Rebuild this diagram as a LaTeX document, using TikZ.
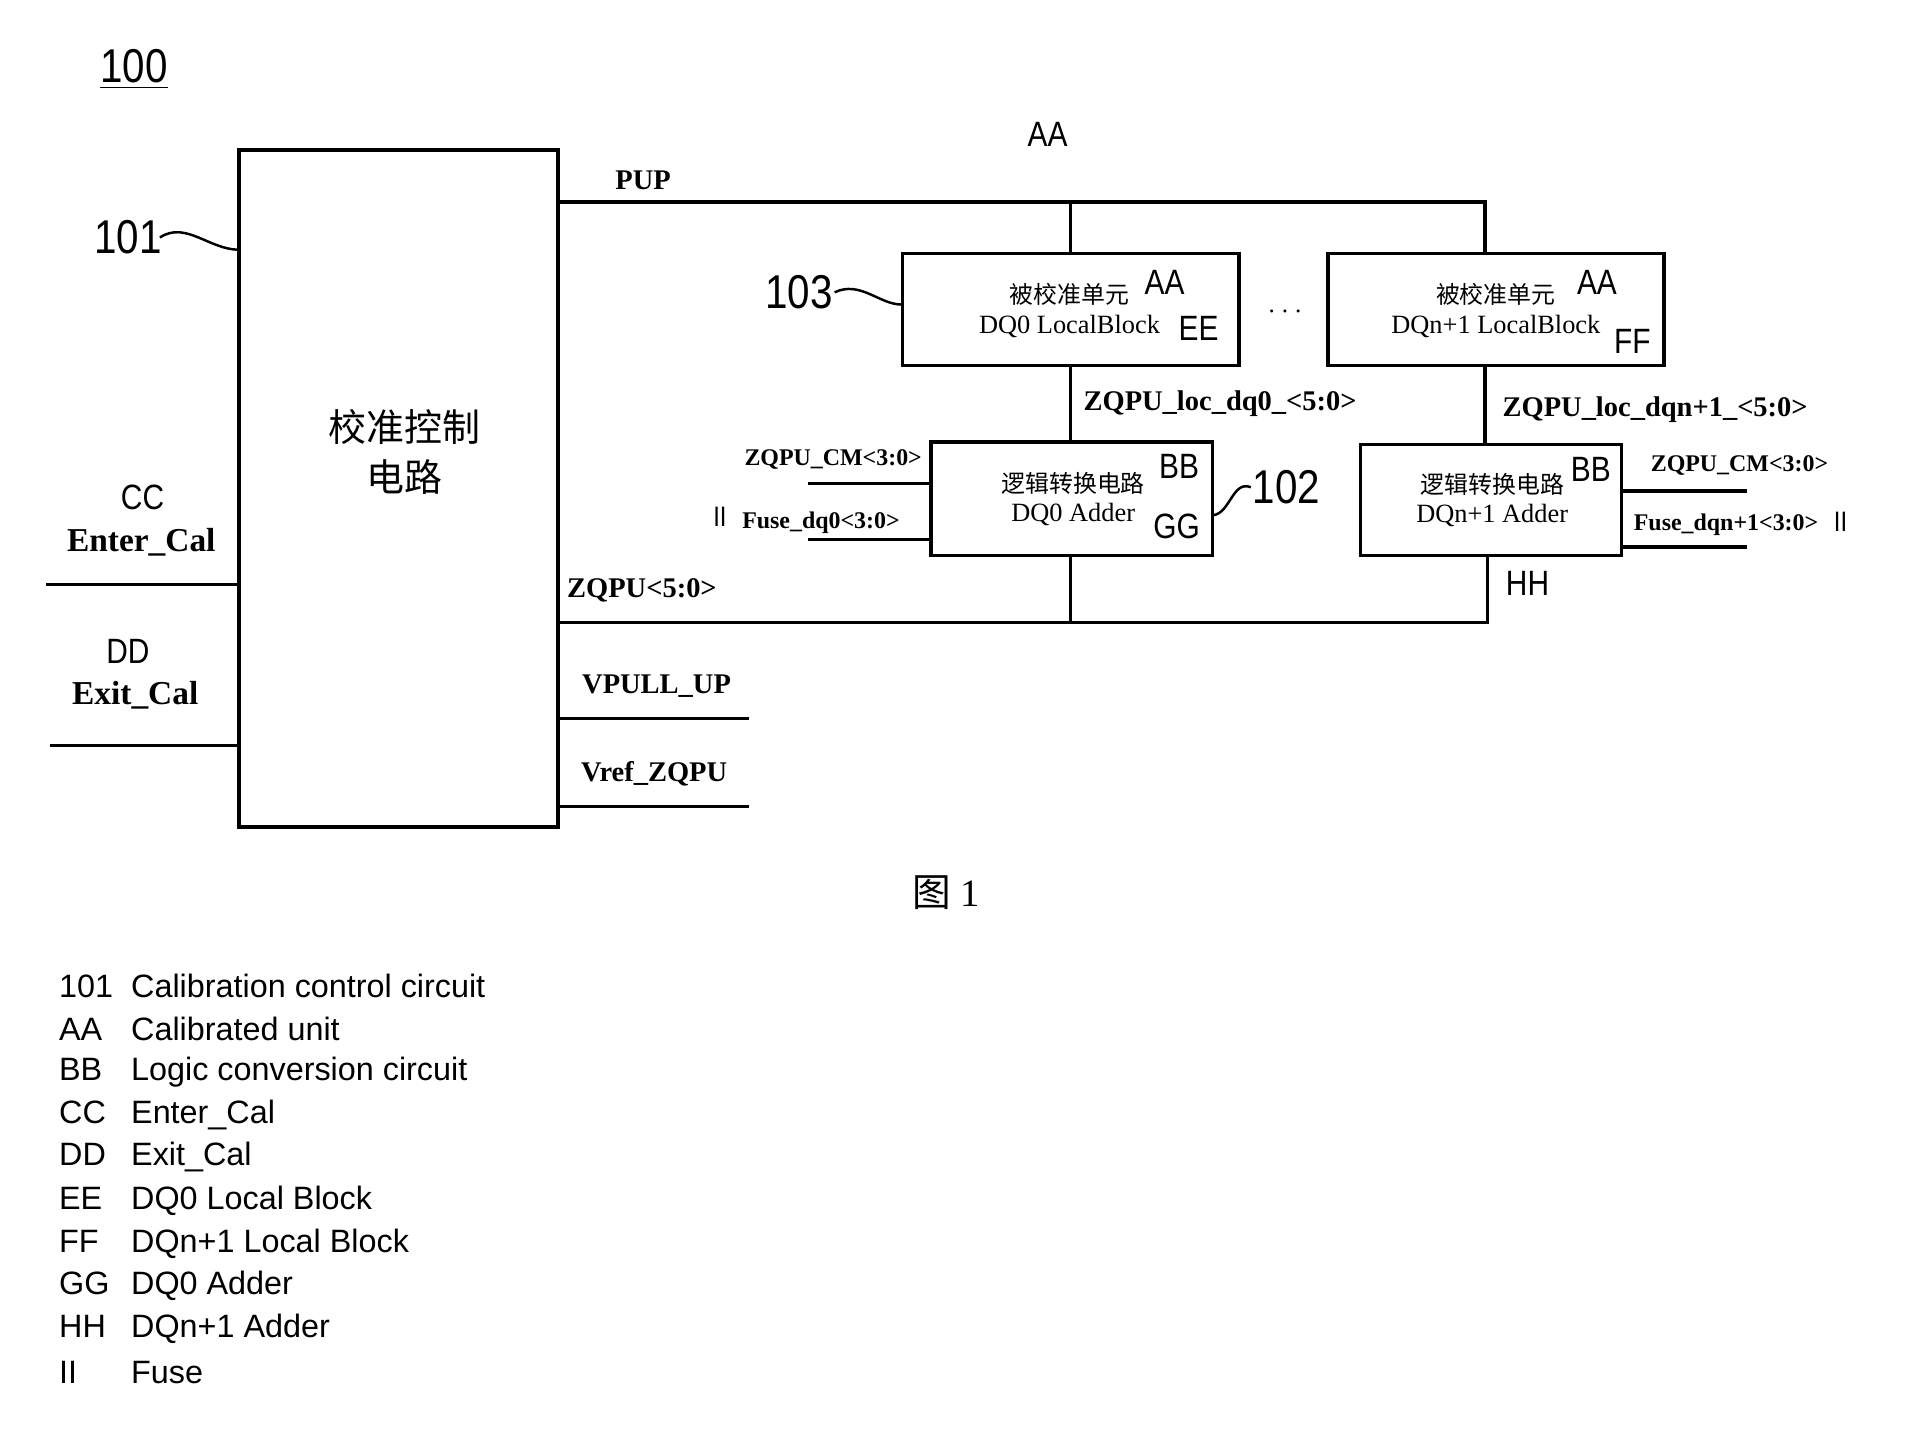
\documentclass[tikz,border=0pt]{standalone}
\usepackage{fontspec}
\setmainfont{Liberation Serif}
\setsansfont{Liberation Sans}
\newfontfamily\cjk{Noto Sans CJK SC}
\newfontfamily\narrowsans[FakeStretch=0.85]{Liberation Sans}
\usepackage{tikz}
\usetikzlibrary{positioning}

\newcommand\pxu{0.01218cm}

\begin{document}
\begin{tikzpicture}[
  x=0.01218cm, y=-0.01218cm,
  box/.style={
    rectangle, draw, line width=1pt, inner sep=0pt
  },
  wire/.style={line width=1pt},
  lead/.style={line width=0.7pt},
  tag/.style={font=\narrowsans\fontsize{10}{12}\selectfont},
  refnum/.style={font=\narrowsans\fontsize{13.5}{16}\selectfont},
  sig/.style={font=\bfseries\fontsize{8.1}{10}\selectfont},
  sigbig/.style={font=\bfseries\fontsize{9.5}{11}\selectfont},
  sigsmall/.style={font=\bfseries\fontsize{6.8}{8}\selectfont},
  cntext/.style={font=\cjk\fontsize{6.8}{8}\selectfont},
  entext/.style={font=\fontsize{7.5}{9}\selectfont},
  legend/.style={anchor=west, inner sep=0pt, font=\sffamily\fontsize{9.2}{11}\selectfont}
]
  \useasboundingbox (0,0) rectangle (1568,1177);

  % blocks
  \node[box, minimum width=262*\pxu, minimum height=556*\pxu] (ctrl) at (327,401) {};
  \node[box, minimum width=276*\pxu, minimum height=92*\pxu]  (lb0)  at (879,254) {};
  \node[box, minimum width=276*\pxu, minimum height=92*\pxu]  (lbn)  at (1228,254) {};
  \node[box, minimum width=231*\pxu, minimum height=93*\pxu]  (add0) at (880,409.5) {};
  \node[box, minimum width=214*\pxu, minimum height=91*\pxu]  (addn) at (1224,410.5) {};

  \node[align=center, font=\cjk\fontsize{10.8}{14}\selectfont] (ctrltxt) at (332,371)
    {校准控制\\电路};

  \node[cntext] (lb0cn) at (878,242) {被校准单元};
  \node[entext] (lb0en) at (878,268) {DQ0 LocalBlock};
  \node[tag]    (lb0aa) at (956,232) {AA};
  \node[tag]    (lb0ee) at (984,270) {EE};

  \node[cntext] (lbncn) at (1228,242) {被校准单元};
  \node[entext] (lbnen) at (1228,268) {DQn+1 LocalBlock};
  \node[tag]    (lbnaa) at (1311,232) {AA};
  \node[tag]    (lbnff) at (1340,280) {FF};

  \node[cntext] (add0cn) at (881,397) {逻辑转换电路};
  \node[entext] (add0en) at (881,422) {DQ0 Adder};
  \node[tag]    (add0bb) at (968,383) {BB};
  \node[tag]    (add0gg) at (966,432) {GG};

  \node[cntext] (addncn) at (1225,398) {逻辑转换电路};
  \node[entext] (adden) at (1225,423) {DQn+1 Adder};
  \node[tag]    (addnbb) at (1306,385) {BB};
  \node[tag]    (addnhh) at (1254,479) {HH};

  \node[font=\fontsize{8}{8}\selectfont] (dots) at (1055,256) {$\cdots$};

  % reference numerals
  \node[refnum] (title) at (110,57) {\underline{100}};
  \node[refnum] (n101) at (105,195) {101};
  \node[refnum] (n103) at (656,240) {103};
  \node[refnum] (n102) at (1056,400) {102};
  \node[tag]    (topaa) at (860,110) {AA};

  \coordinate (c101) at (196,205);
  \coordinate (c103) at (740,250);
  \coordinate (c102) at (996,423);
  \draw[lead] ([xshift=-4pt]n101.east) .. controls (152,181) and (172,205) .. (c101);
  \draw[lead] ([xshift=-3pt]n103.east) .. controls (706,230) and (722,250) .. (c103);
  \draw[lead] (c102) .. controls (1010,421) and (1012,394) .. ([xshift=3pt]n102.west);

  % buses
  \coordinate (pupT) at (1219,166);
  \coordinate (zqT)  at (1221,511);
  \draw[wire] (ctrl.east |- pupT) -- (pupT) -- (pupT |- lbn.north);
  \draw[wire] (lb0.north |- pupT) -- (lb0.north);
  \draw[wire] (lb0.south) -- (lb0.south |- add0.north);
  \draw[wire] (pupT |- lbn.south) -- (pupT |- addn.north);
  \draw[wire] (ctrl.east |- zqT) -- (zqT) -- (zqT |- addn.south);
  \draw[wire] (lb0.south |- add0.south) -- (lb0.south |- zqT);

  % side wires
  \coordinate (cm0)  at (663,397);
  \coordinate (fu0)  at (663,443);
  \coordinate (cmn)  at (1434,403);
  \coordinate (fun)  at (1434,449);
  \coordinate (vpu)  at (615,590);
  \coordinate (vref) at (615,662);
  \coordinate (ent)  at (38,480);
  \coordinate (ext)  at (41,612);
  \draw[wire] (cm0) -- (cm0 -| add0.west);
  \draw[wire] (fu0) -- (fu0 -| add0.west);
  \draw[wire] (addn.east |- cmn) -- (cmn);
  \draw[wire] (addn.east |- fun) -- (fun);
  \draw[wire] (ctrl.east |- vpu) -- (vpu);
  \draw[wire] (ctrl.east |- vref) -- (vref);
  \draw[wire] (ent) -- (ent -| ctrl.west);
  \draw[wire] (ext) -- (ext -| ctrl.west);

  % signal names
  \node[sig] (pup)   at (528,148) {PUP};
  \node[sig] (zqpu)  at (527,485) {ZQPU<5:0>};
  \node[sig] (vpull) at (539,563) {VPULL\_UP};
  \node[sig] (vrefl) at (537,635) {Vref\_ZQPU};
  \node[sig, anchor=west, inner sep=0pt] (loc0) at (889,331) {ZQPU\_loc\_dq0\_<5:0>};
  \node[sig, anchor=west, inner sep=0pt] (locn) at (1233,336) {ZQPU\_loc\_dqn+1\_<5:0>};
  \node[sigsmall] (cm0l) at (684,377) {ZQPU\_CM<3:0>};
  \node[sigsmall] (fu0l) at (674,429) {Fuse\_dq0<3:0>};
  \node[sigsmall] (cmnl) at (1428,382) {ZQPU\_CM<3:0>};
  \node[sigsmall] (funl) at (1417,431) {Fuse\_dqn+1<3:0>};
  \node[tag, font=\narrowsans\fontsize{8}{10}\selectfont] (ii0) at (591,424) {II};
  \node[tag, font=\narrowsans\fontsize{8}{10}\selectfont] (iin) at (1511,428) {II};

  \node[tag]    (cc)    at (117,408) {CC};
  \node[sigbig] (enter) at (116,445) {Enter\_Cal};
  \node[tag]    (dd)    at (105,535) {DD};
  \node[sigbig] (exit)  at (111,571) {Exit\_Cal};

  \node[font=\fontsize{11}{13}\selectfont] (fig) at (777,733) {{\cjk 图} 1};

  % legend
  \node[legend] (k1)  at (48,809)  {\makebox[0.72cm][l]{101}Calibration control circuit};
  \node[legend] (k2)  at (48,845)  {\makebox[0.72cm][l]{AA}Calibrated unit};
  \node[legend] (k3)  at (48,880)  {\makebox[0.72cm][l]{BB}Logic conversion circuit};
  \node[legend] (k4)  at (48,915)  {\makebox[0.72cm][l]{CC}Enter\_Cal};
  \node[legend] (k5)  at (48,950)  {\makebox[0.72cm][l]{DD}Exit\_Cal};
  \node[legend] (k6)  at (48,986)  {\makebox[0.72cm][l]{EE}DQ0 Local Block};
  \node[legend] (k7)  at (48,1021) {\makebox[0.72cm][l]{FF}DQn+1 Local Block};
  \node[legend] (k8)  at (48,1056) {\makebox[0.72cm][l]{GG}DQ0 Adder};
  \node[legend] (k9)  at (48,1091) {\makebox[0.72cm][l]{HH}DQn+1 Adder};
  \node[legend] (k10) at (48,1127) {\makebox[0.72cm][l]{II}Fuse};
\end{tikzpicture}
\end{document}
